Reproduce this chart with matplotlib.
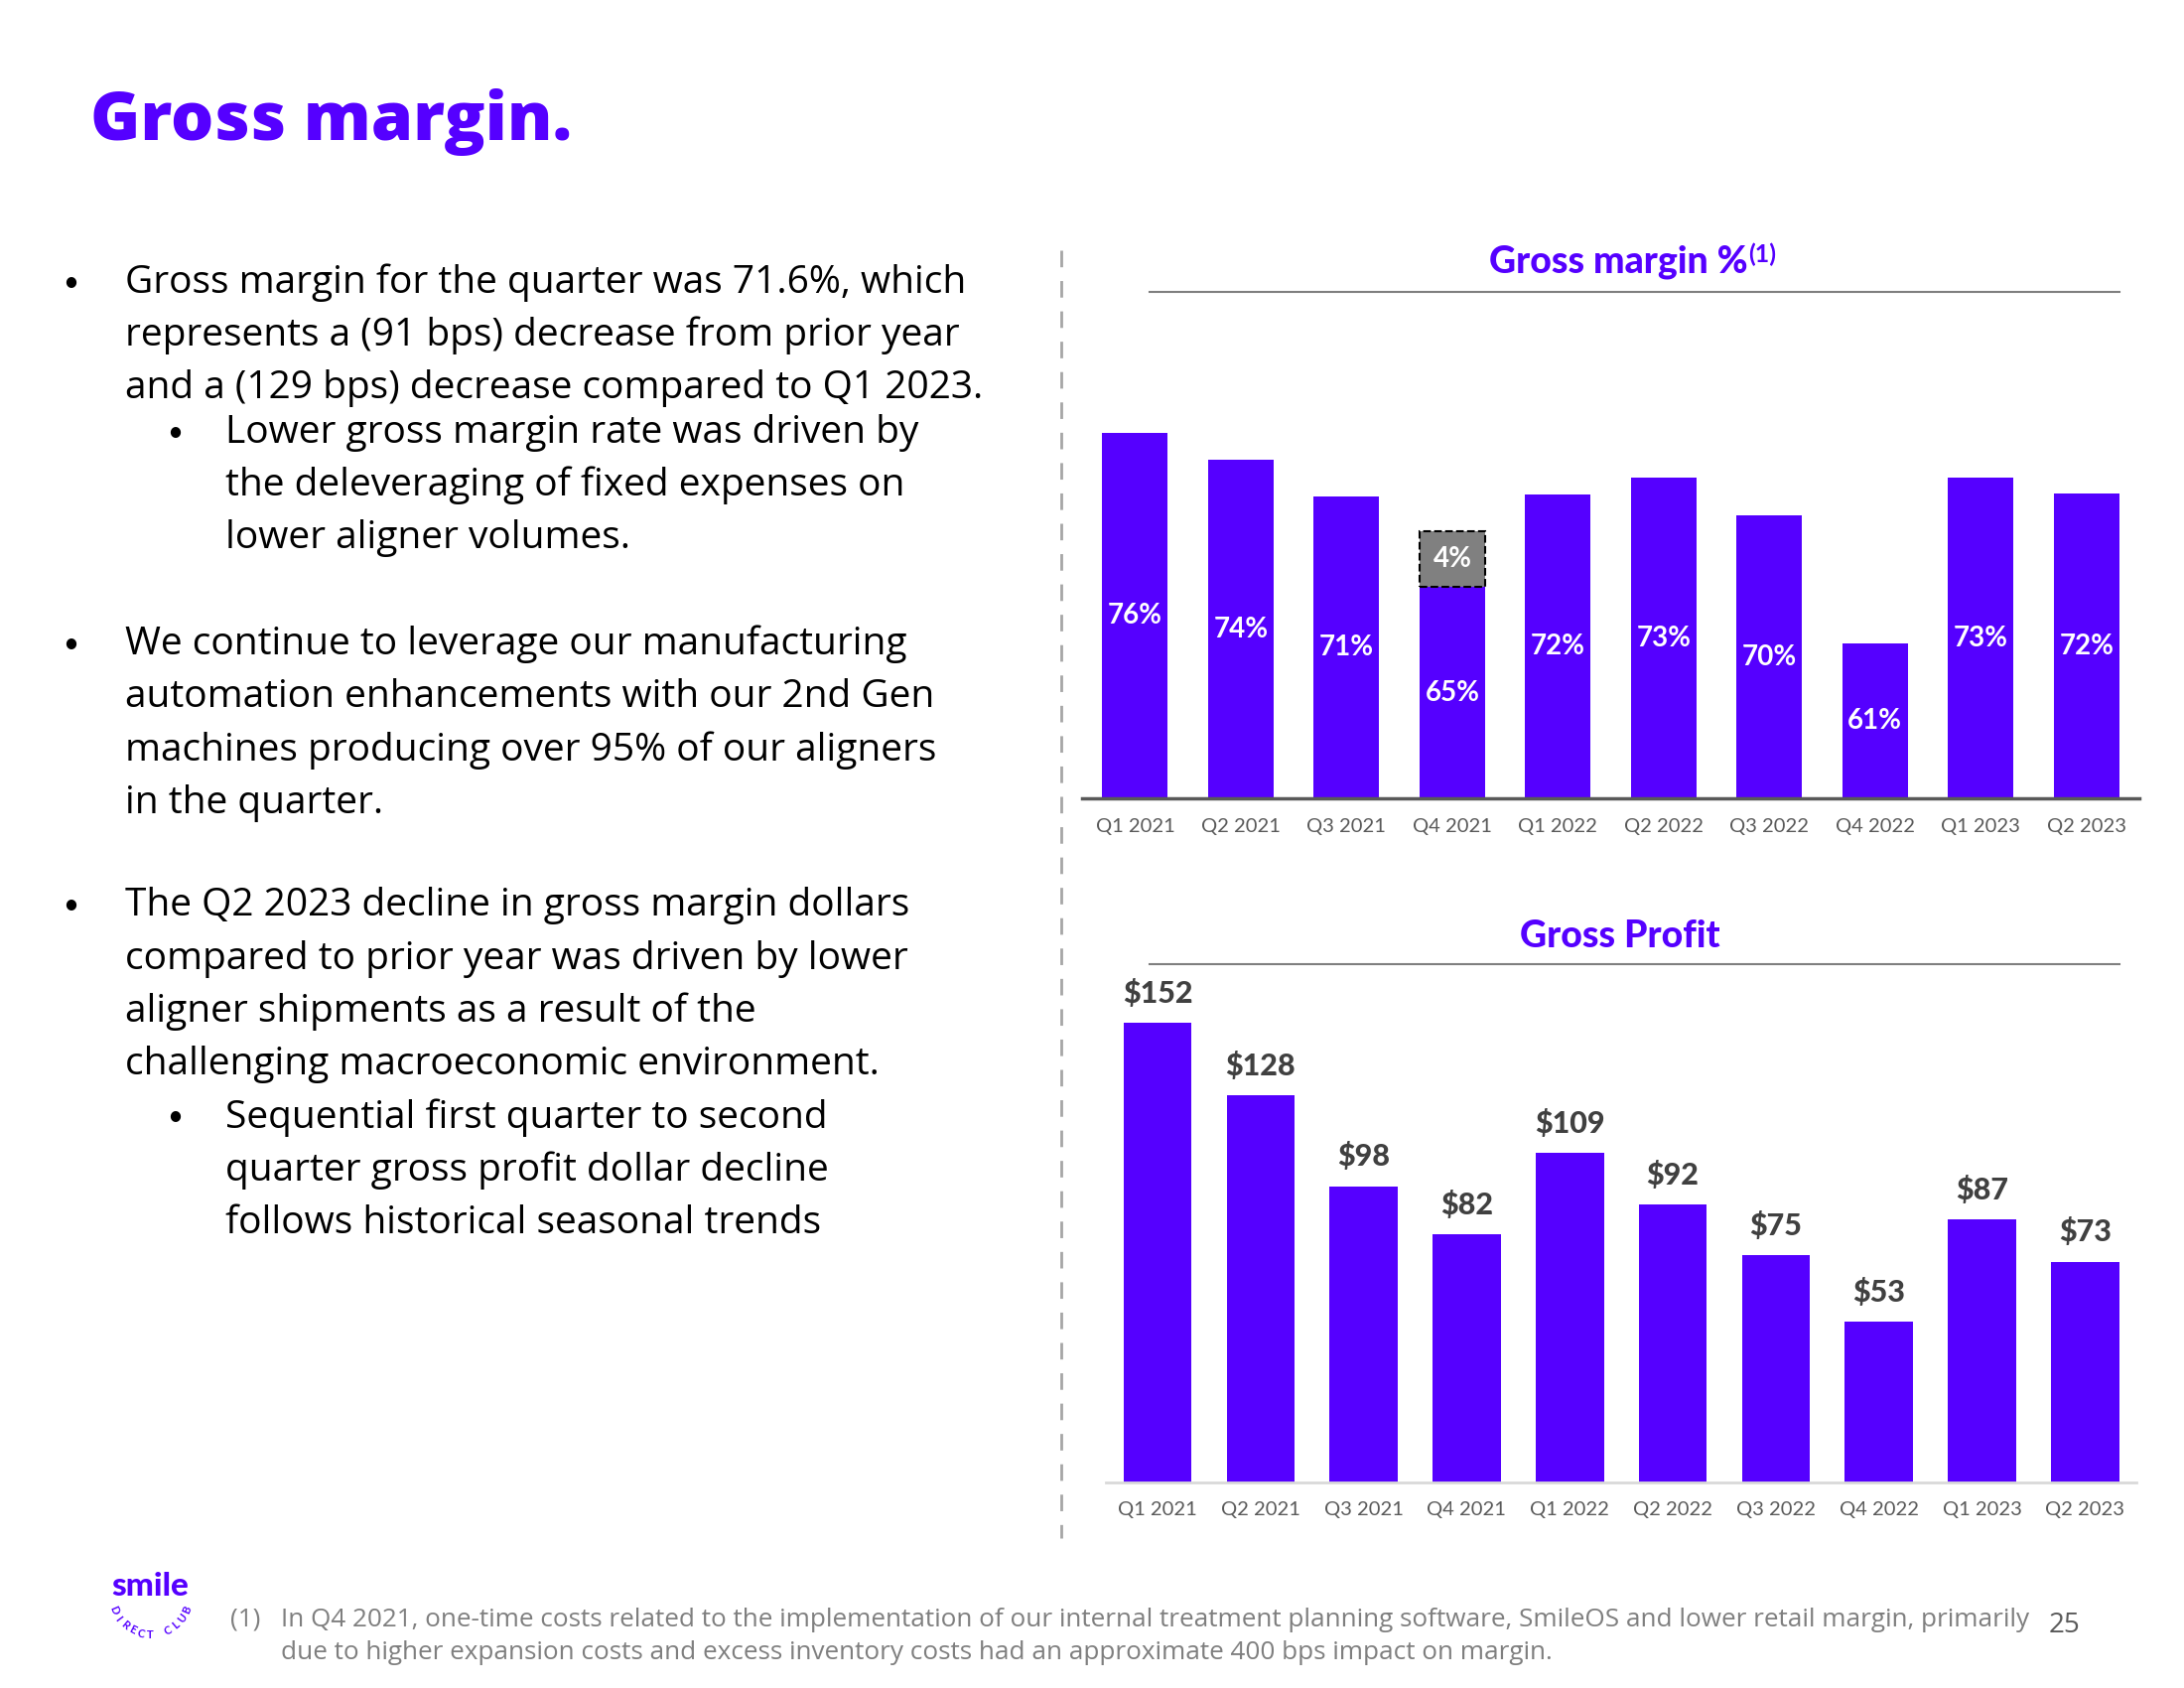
import numpy as np
import matplotlib
matplotlib.use("Agg")
import matplotlib.pyplot as plt
from matplotlib.lines import Line2D

plt.rcParams['font.family'] = ['Lato', 'DejaVu Sans']
BODY = ['Open Sans', 'DejaVu Sans']

quarters = ['Q1 2021', 'Q2 2021', 'Q3 2021', 'Q4 2021', 'Q1 2022',
            'Q2 2022', 'Q3 2022', 'Q4 2022', 'Q1 2023', 'Q2 2023']
margin_pct = [76.1, 74.2, 71.6, 65.1, 71.7, 72.9, 70.2, 61.1, 72.9, 71.8]
margin_labels = ['76%', '74%', '71%', '65%', '72%', '73%', '70%', '61%', '73%', '72%']
one_time_pct = [0, 0, 0, 4, 0, 0, 0, 0, 0, 0]   # Q4 2021 one-time impact
gross_profit = [152, 128, 98, 82, 109, 92, 75, 53, 87, 73]

bullets = [
    (0, ["Gross margin for the quarter was 71.6%, which",
         "represents a (91 bps) decrease from prior year",
         "and a (129 bps) decrease compared to Q1 2023."]),
    (1, ["Lower gross margin rate was driven by",
         "the deleveraging of fixed expenses on",
         "lower aligner volumes."]),
    (0, ["We continue to leverage our manufacturing",
         "automation enhancements with our 2nd Gen",
         "machines producing over 95% of our aligners",
         "in the quarter."]),
    (0, ["The Q2 2023 decline in gross margin dollars",
         "compared to prior year was driven by lower",
         "aligner shipments as a result of the",
         "challenging macroeconomic environment."]),
    (1, ["Sequential first quarter to second",
         "quarter gross profit dollar decline",
         "follows historical seasonal trends"]),
]
bullet_first_y = [203, 311, 463, 651, 803]

PURPLE = '#5500FF'
W, H = 1568.0, 1213.0


def fx(x):
    return x / W


def fy(y):
    return 1 - y / H


fig = plt.figure(figsize=(22, 17), dpi=100)

# page title
fig.text(fx(65), fy(88), "Gross margin.", color=PURPLE, fontsize=49,
         fontweight='heavy', family=BODY, va='center', ha='left')

# bullet text
for (level, lines), y0 in zip(bullets, bullet_first_y):
    bx = 45 if level == 0 else 120
    tx = 90 if level == 0 else 162
    fig.text(fx(bx), fy(y0), "•", fontsize=20, va='center', ha='left', color='black')
    for i, line in enumerate(lines):
        fig.text(fx(tx), fy(y0 + i * 38), line, fontsize=28, family=BODY,
                 va='center', ha='left', color='black')

# dashed divider
fig.add_artist(Line2D([fx(762), fx(762)], [fy(180), fy(1105)], color='#A6A6A6',
                      lw=2, linestyle=(0, (6, 5)), transform=fig.transFigure))

# ---- top chart: gross margin %
ax1 = fig.add_axes([fx(777), fy(574), fx(1536) - fx(777), fy(220) - fy(574)])
x = np.arange(len(quarters))
ax1.bar(x, margin_pct, width=0.62, color=PURPLE)
ax1.bar(x[3], one_time_pct[3], bottom=margin_pct[3], width=0.62, color='#808080',
        edgecolor='black', linestyle='--', linewidth=1.5)
ymin1 = 50
ax1.set_ylim(ymin1, ymin1 + 354 / 10.07)
ax1.set_xlim(-0.5, len(quarters) - 0.5)
for i, lab in enumerate(margin_labels):
    ax1.text(i, (margin_pct[i] + ymin1) / 2, lab, color='white', fontsize=20,
             fontweight='bold', ha='center', va='center')
ax1.text(3, margin_pct[3] + one_time_pct[3] / 2, "4%", color='white', fontsize=20,
         fontweight='bold', ha='center', va='center')
for s in ['top', 'right', 'left']:
    ax1.spines[s].set_visible(False)
ax1.spines['bottom'].set_color('#595959')
ax1.spines['bottom'].set_linewidth(2.5)
ax1.set_yticks([])
ax1.set_xticks(x)
ax1.set_xticklabels(quarters, fontsize=14.5, color='#595959')
ax1.tick_params(axis='x', length=0, pad=14)

fig.text(fx(1162), fy(188), "Gross margin %", color=PURPLE, fontsize=27,
         fontweight='black', ha='center', va='center')
fig.text(fx(1255), fy(183), "(1)", color=PURPLE, fontsize=18,
         fontweight='bold', ha='left', va='center')
fig.add_artist(Line2D([fx(825), fx(1522)], [fy(210), fy(210)], color='#7F7F7F',
                      lw=1.5, transform=fig.transFigure))

# ---- bottom chart: gross profit
ax2 = fig.add_axes([fx(794), fy(1065), fx(1534) - fx(794), fy(700) - fy(1065)])
ax2.bar(x, gross_profit, width=0.66, color=PURPLE)
ax2.set_ylim(0, 365 / 2.17)
ax2.set_xlim(-0.5, len(quarters) - 0.5)
for i, v in enumerate(gross_profit):
    ax2.text(i, v + 5, f"${v}", color='#404040', fontsize=22, fontweight='black',
             ha='center', va='bottom')
for s in ['top', 'right', 'left']:
    ax2.spines[s].set_visible(False)
ax2.spines['bottom'].set_color('#D9D9D9')
ax2.spines['bottom'].set_linewidth(2)
ax2.set_yticks([])
ax2.set_xticks(x)
ax2.set_xticklabels(quarters, fontsize=14.5, color='#595959')
ax2.tick_params(axis='x', length=0, pad=14)

fig.text(fx(1163), fy(673), "Gross Profit", color=PURPLE, fontsize=27,
         fontweight='black', ha='center', va='center')
fig.add_artist(Line2D([fx(825), fx(1522)], [fy(693), fy(693)], color='#7F7F7F',
                      lw=1.5, transform=fig.transFigure))

# ---- footer
fig.text(fx(108), fy(1140), "smile", color=PURPLE, fontsize=24, fontweight='black',
         ha='center', va='center')
arc = "DIRECT CLUB"
cx, cy, r = 108 * 2200 / W, (H - 1146) * 1700 / H, 40
angles = np.linspace(203, 337, len(arc))
for ch, a in zip(arc, angles):
    px = cx + r * np.cos(np.radians(a))
    py = cy + r * np.sin(np.radians(a))
    fig.text(px / 2200, py / 1700, ch, color=PURPLE, fontsize=8, fontweight='bold',
             ha='center', va='center', rotation=a + 90)

fig.text(fx(165), fy(1164), "(1)", color='#7F7F7F', fontsize=18.8, family=BODY,
         ha='left', va='center')
fig.text(fx(202), fy(1164),
         "In Q4 2021, one-time costs related to the implementation of our internal "
         "treatment planning software, SmileOS and lower retail margin, primarily",
         color='#7F7F7F', fontsize=18.8, family=BODY, ha='left', va='center')
fig.text(fx(202), fy(1188),
         "due to higher expansion costs and excess inventory costs had an "
         "approximate 400 bps impact on margin.",
         color='#7F7F7F', fontsize=18.8, family=BODY, ha='left', va='center')
fig.text(fx(1482), fy(1168), "25", color='#595959', fontsize=20, family=BODY,
         ha='center', va='center')

fig.savefig("out.png", dpi=100)
